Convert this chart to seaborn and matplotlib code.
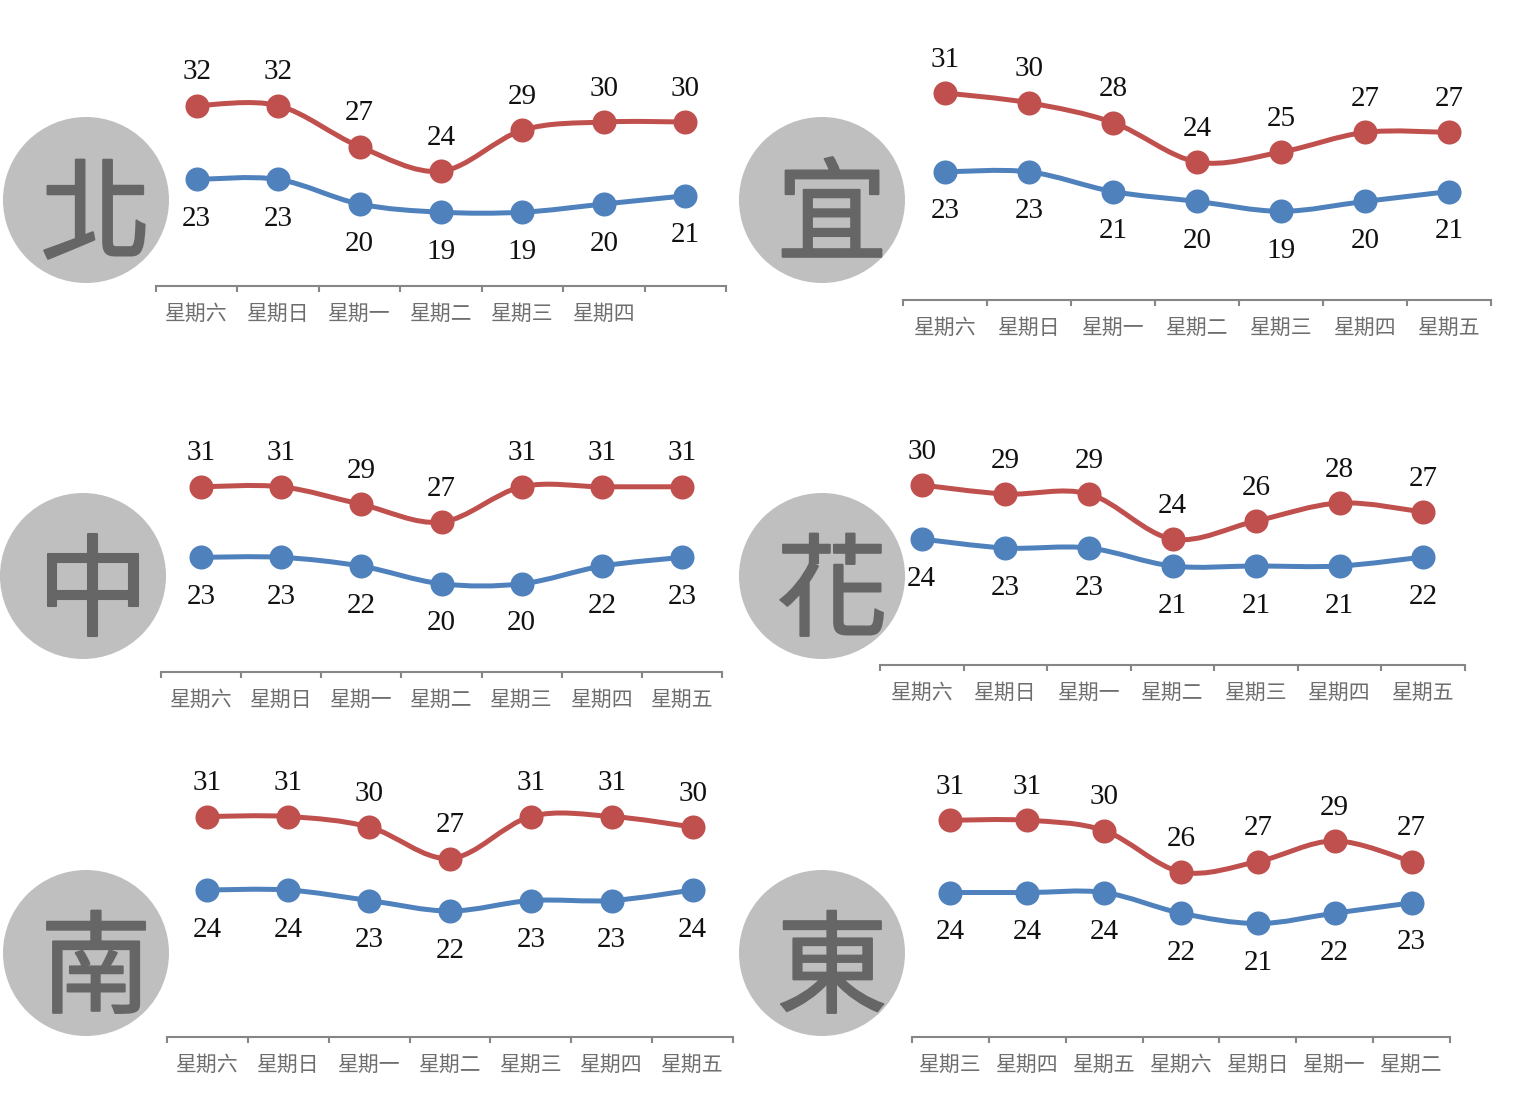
import matplotlib
matplotlib.use('Agg')

import matplotlib.patheffects as pe
import matplotlib.pyplot as plt
from matplotlib.patches import Circle, PathPatch
from matplotlib.path import Path
import numpy as np
import pandas as pd
import seaborn as sns

W, H = 1522, 1106

days = ['星期六', '星期日', '星期一', '星期二', '星期三', '星期四', '星期五']
days_north = ['星期六', '星期日', '星期一', '星期二', '星期三', '星期四', '']
days_east = ['星期三', '星期四', '星期五', '星期六', '星期日', '星期一', '星期二']

north_high = [32, 32, 27, 24, 29, 30, 30]
north_low = [23, 23, 20, 19, 19, 20, 21]
yilan_high = [31, 30, 28, 24, 25, 27, 27]
yilan_low = [23, 23, 21, 20, 19, 20, 21]
central_high = [31, 31, 29, 27, 31, 31, 31]
central_low = [23, 23, 22, 20, 20, 22, 23]
hualien_high = [30, 29, 29, 24, 26, 28, 27]
hualien_low = [24, 23, 23, 21, 21, 21, 22]
south_high = [31, 31, 30, 27, 31, 31, 30]
south_low = [24, 24, 23, 22, 23, 23, 24]
east_high = [31, 31, 30, 26, 27, 29, 27]
east_low = [24, 24, 24, 22, 21, 22, 23]

RED = '#C0504D'
BLUE = '#4F81BD'
AXIS_GRAY = '#868686'
Y_MIN, Y_MAX = 10, 36

# name, days, high, low, left px, right px, axis y px, px per degree, circle x, y, radius
panels = [
    ('北', days_north, north_high, north_low, 156, 726, 286, 8.2, 86, 200, 83),
    ('宜', days, yilan_high, yilan_low, 903, 1491, 300, 9.86, 822, 200, 83),
    ('中', days, central_high, central_low, 161, 722, 672, 8.82, 83, 576, 83),
    ('花', days, hualien_high, hualien_low, 880, 1465, 665, 9.0, 822, 576, 83),
    ('南', days, south_high, south_low, 167, 733, 1037, 10.5, 86, 953, 83),
    ('東', days_east, east_high, east_low, 912, 1450, 1037, 10.32, 822, 953, 83),
]


def smooth_path(x, y):
    # same kind of bezier smoothing as office charts
    pts = np.column_stack([x, y]).astype(float)
    verts = [pts[0]]
    codes = [Path.MOVETO]
    for i in range(len(pts) - 1):
        p0 = pts[max(i - 1, 0)]
        p1 = pts[i]
        p2 = pts[i + 1]
        p3 = pts[min(i + 2, len(pts) - 1)]
        verts += [p1 + (p2 - p0) / 6, p2 - (p3 - p1) / 6, p2]
        codes += [Path.CURVE4] * 3
    return Path(verts, codes)


def draw_series(ax, values, color, offset):
    x = np.arange(len(values))
    ax.add_patch(PathPatch(smooth_path(x, values), fill=False, edgecolor=color,
                           linewidth=3.6, capstyle='round', zorder=2))
    df = pd.DataFrame({'x': x, 'y': values})
    sns.scatterplot(data=df, x='x', y='y', color=color, s=300, linewidth=0,
                    ax=ax, zorder=3, clip_on=False)
    for xi, v in zip(x, values):
        ax.annotate(str(v), (xi, v), xytext=(0, offset), textcoords='offset points',
                    ha='center', va='center', fontsize=21, color='#111111',
                    family=['Liberation Serif'])


sns.set_theme(style='white')
plt.rcParams['font.family'] = ['Noto Sans CJK TC', 'DejaVu Sans']

fig = plt.figure(figsize=(W / 100, H / 100), dpi=100, facecolor='white')

# circles with the region names, in pixel coordinates
bg = fig.add_axes([0, 0, 1, 1])
bg.set_xlim(0, W)
bg.set_ylim(H, 0)
bg.axis('off')

for name, labels, high, low, left, right, axis_y, ppd, cx, cy, r in panels:
    bg.add_patch(Circle((cx, cy), r, facecolor='#BFBFBF', edgecolor='none'))
    bg.text(cx + 10, cy + 19, name, fontsize=80, color='#666666', ha='center',
            va='center', fontweight='medium',
            path_effects=[pe.withStroke(linewidth=1.5, foreground='#666666')])

    height = (Y_MAX - Y_MIN) * ppd
    ax = fig.add_axes([left / W, 1 - axis_y / H, (right - left) / W, height / H])
    ax.patch.set_alpha(0)
    draw_series(ax, high, RED, 24)
    draw_series(ax, low, BLUE, -28.5)

    ax.set_xlim(-0.5, 6.5)
    ax.set_ylim(Y_MIN, Y_MAX)
    ax.set_xlabel('')
    ax.set_ylabel('')
    ax.set_yticks([])
    ax.set_xticks(range(7))
    ax.set_xticklabels(labels, fontsize=15, color='#6e6e6e', fontweight='light')
    ax.set_xticks(np.arange(-0.5, 7), minor=True)
    ax.tick_params(axis='x', which='major', length=0, pad=12)
    ax.tick_params(axis='x', which='minor', length=4, width=1.5, color=AXIS_GRAY,
                   direction='out', bottom=True)
    for side in ['top', 'left', 'right']:
        ax.spines[side].set_visible(False)
    ax.spines['bottom'].set_color(AXIS_GRAY)
    ax.spines['bottom'].set_linewidth(1.5)

fig.savefig('out.png', dpi=100)
plt.close(fig)
